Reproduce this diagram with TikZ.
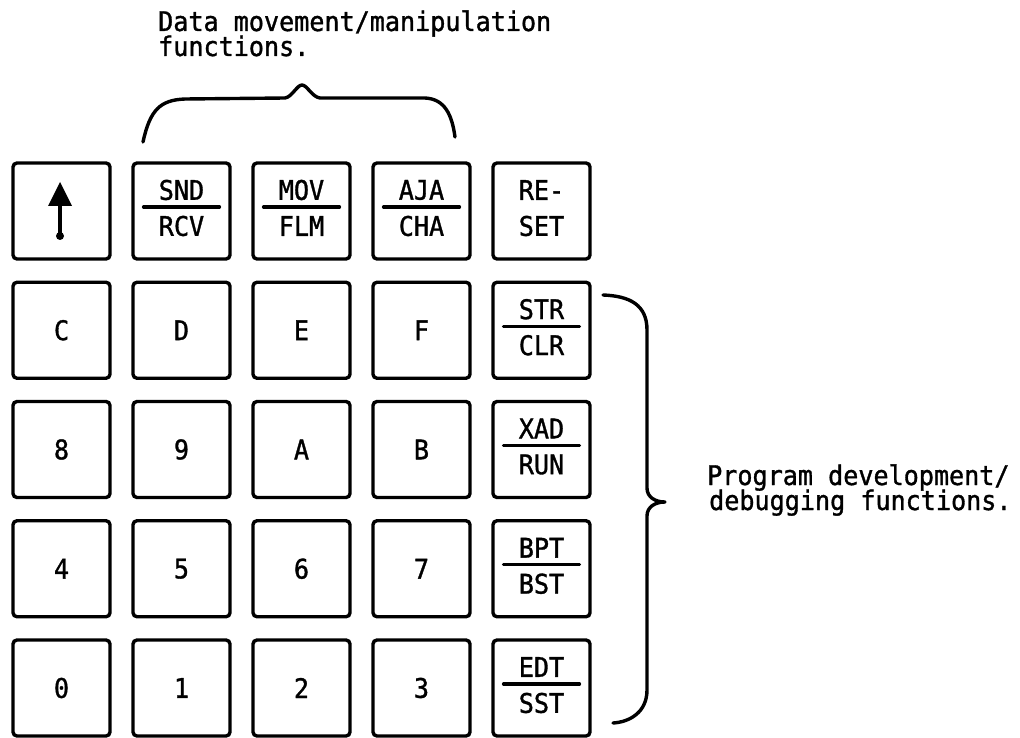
\documentclass[tikz,border=0pt]{standalone}
\usepackage{fontspec}
\newfontfamily\keyfont[FakeStretch=0.93,FakeBold=1.2]{DejaVu Sans Mono}
\begin{document}
\begin{tikzpicture}[x=1pt,y=-1pt,
  key/.style={draw, line width=3.4pt, rounded corners=4pt, minimum width=97pt, minimum height=96pt, inner sep=0pt},
  lbl/.style={font=\keyfont\fontsize{27}{30}\selectfont, inner sep=0pt},
  txt/.style={font=\keyfont\fontsize{27}{30}\selectfont, inner sep=0pt, anchor=base west},
  bar/.style={line width=3.2pt, line cap=round},
  brace/.style={line width=3.4pt, line cap=round, line join=round}]
\useasboundingbox (0,0) rectangle (1020,738);
\newcommand\fkey[5]{%
  \node[key] (#1) at #2 {};
  \node[lbl] (#1t) at ([yshift=21pt]#1.center) {#3};
  \node[lbl] (#1b) at ([yshift=-15pt]#1.center) {#4};
  \ifx&#5&\else
  \draw[bar] ([xshift=-38pt,yshift=4pt]#1.center) -- ([xshift=38pt,yshift=4pt]#1.center);
  \fi}
% row 0
\node[key] (k00) at (61.5,211) {};
\fill ([xshift=-1.5pt,yshift=29pt]k00.center) -- ([xshift=-13.5pt,yshift=5pt]k00.center) -- ([xshift=10.5pt,yshift=5pt]k00.center) -- cycle;
\draw[line width=4pt] ([xshift=-1.5pt,yshift=6pt]k00.center) -- ([xshift=-1.5pt,yshift=-24pt]k00.center);
\fill ([xshift=-1.5pt,yshift=-25pt]k00.center) circle (4pt);
\fkey{k01}{(181.5,211)}{SND}{RCV}{x}
\fkey{k02}{(301.5,211)}{MOV}{FLM}{x}
\fkey{k03}{(421.5,211)}{AJA}{CHA}{x}
\fkey{k04}{(541.5,211)}{RE-}{SET}{}
% row 1
\node[key,lbl] (k10) at (61.5,330.25) {C};
\node[key,lbl] (k11) at (181.5,330.25) {D};
\node[key,lbl] (k12) at (301.5,330.25) {E};
\node[key,lbl] (k13) at (421.5,330.25) {F};
\fkey{k14}{(541.5,330.25)}{STR}{CLR}{x}
% row 2
\node[key,lbl] (k20) at (61.5,449.5) {8};
\node[key,lbl] (k21) at (181.5,449.5) {9};
\node[key,lbl] (k22) at (301.5,449.5) {A};
\node[key,lbl] (k23) at (421.5,449.5) {B};
\fkey{k24}{(541.5,449.5)}{XAD}{RUN}{x}
% row 3
\node[key,lbl] (k30) at (61.5,568.75) {4};
\node[key,lbl] (k31) at (181.5,568.75) {5};
\node[key,lbl] (k32) at (301.5,568.75) {6};
\node[key,lbl] (k33) at (421.5,568.75) {7};
\fkey{k34}{(541.5,568.75)}{BPT}{BST}{x}
% row 4
\node[key,lbl] (k40) at (61.5,688) {0};
\node[key,lbl] (k41) at (181.5,688) {1};
\node[key,lbl] (k42) at (301.5,688) {2};
\node[key,lbl] (k43) at (421.5,688) {3};
\fkey{k44}{(541.5,688)}{EDT}{SST}{x}
% texts
\node[txt] (t1) at (158,31) {Data movement/manipulation};
\node[txt] (t2) at (158,56) {functions.};
\node[txt] (t3) at (707,485) {Program development/};
\node[txt] (t4) at (709,510) {debugging functions.};
% braces
\draw[brace] (143,142) .. controls (150,110) and (160,100) .. (185,99) -- (285,98)
  .. controls (292,97) and (297,85) .. (302,85) .. controls (307,85) and (312,97) .. (320,98)
  -- (425,98) .. controls (445,99) and (452,115) .. (455,137);
\draw[brace] (603,295) .. controls (630,296) and (647,305) .. (647,330) -- (647,488)
  .. controls (647,497) and (655,502) .. (665,502) .. controls (655,502) and (647,507) .. (647,516)
  -- (647,690) .. controls (647,712) and (630,722) .. (613,723);
\end{tikzpicture}
\end{document}
